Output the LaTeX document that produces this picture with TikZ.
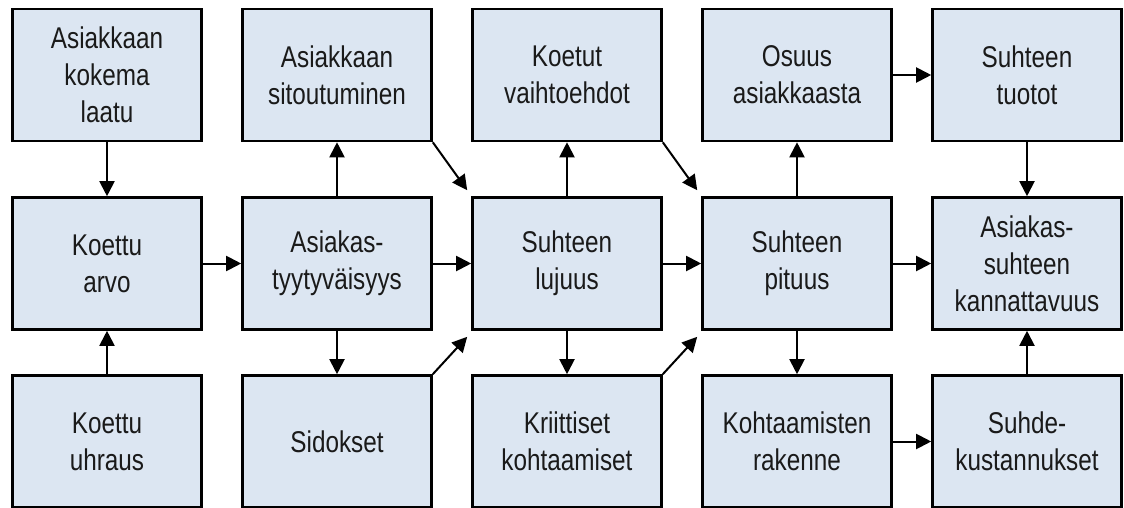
\documentclass[tikz,border=0pt]{standalone}
\usepackage{fontspec}
\setmainfont{Liberation Sans}[FakeStretch=0.81]
\usetikzlibrary{arrows.meta,calc}
\definecolor{boxfill}{HTML}{DCE6F2}
\definecolor{boxtext}{HTML}{1A1A1A}
\begin{document}
\begin{tikzpicture}[x=1pt,y=-1pt,
  box/.style={draw=black,line width=2.6pt,fill=boxfill,text=boxtext,
    minimum width=189pt,minimum height=132pt,inner sep=0pt,
    align=center,font=\fontsize{30}{37}\selectfont},
  link/.style={line width=2pt,-{Triangle[length=15pt,width=15pt]}}]
\useasboundingbox (0,0) rectangle (1124,508);
% column centres 107, 337, 567, 797, 1027; row centres 75, 263.5, 441.5
\node[box] (laatu)   at (107,75)    {Asiakkaan\\kokema\\laatu};
\node[box] (sitout)  at (337,75)    {Asiakkaan\\sitoutuminen};
\node[box] (vaiht)   at (567,75)    {Koetut\\vaihtoehdot};
\node[box] (osuus)   at (797,75)    {Osuus\\asiakkaasta};
\node[box] (tuotot)  at (1027,75)   {Suhteen\\tuotot};
\node[box] (arvo)    at (107,263.5) {Koettu\\arvo};
\node[box] (tyyt)    at (337,263.5) {Asiakas-\\tyytyväisyys};
\node[box] (lujuus)  at (567,263.5) {Suhteen\\lujuus};
\node[box] (pituus)  at (797,263.5) {Suhteen\\pituus};
\node[box] (kannat)  at (1027,263.5){Asiakas-\\suhteen\\kannattavuus};
\node[box] (uhraus)  at (107,441.5) {Koettu\\uhraus};
\node[box] (sidos)   at (337,441.5) {Sidokset};
\node[box] (kriit)   at (567,441.5) {Kriittiset\\kohtaamiset};
\node[box] (rakenne) at (797,441.5) {Kohtaamisten\\rakenne};
\node[box] (kust)    at (1027,441.5){Suhde-\\kustannukset};
% vertical links
\draw[link] (laatu) -- (arvo);
\draw[link] (uhraus) -- (arvo);
\draw[link] (tyyt) -- (sitout);
\draw[link] (tyyt) -- (sidos);
\draw[link] (lujuus) -- (vaiht);
\draw[link] (lujuus) -- (kriit);
\draw[link] (pituus) -- (osuus);
\draw[link] (pituus) -- (rakenne);
\draw[link] (tuotot) -- (kannat);
\draw[link] (kust) -- (kannat);
% horizontal links
\draw[link] (arvo) -- (tyyt);
\draw[link] (tyyt) -- (lujuus);
\draw[link] (lujuus) -- (pituus);
\draw[link] (pituus) -- (kannat);
\draw[link] (osuus) -- (tuotot);
\draw[link] (rakenne) -- (kust);
% diagonal links
\draw[link] (sitout.south east) -- ($(lujuus.north west)+(-4,-6)$);
\draw[link] (sidos.north east)  -- ($(lujuus.south west)+(-4,6)$);
\draw[link] (vaiht.south east)  -- ($(pituus.north west)+(-4,-6)$);
\draw[link] (kriit.north east)  -- ($(pituus.south west)+(-4,6)$);
\end{tikzpicture}
\end{document}
